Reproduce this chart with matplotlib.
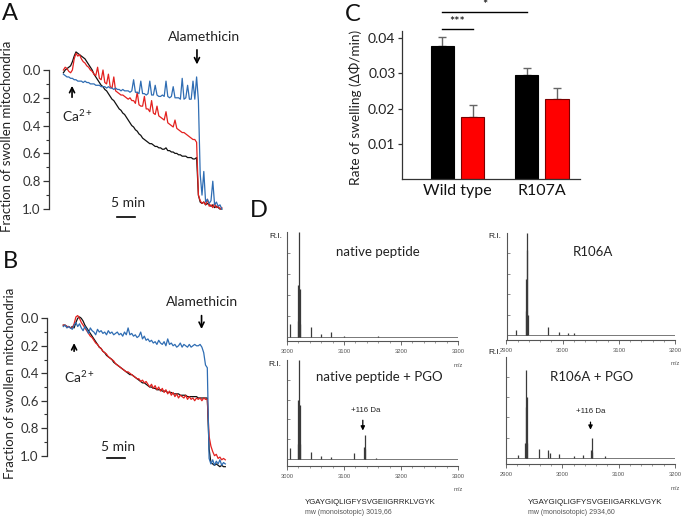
import numpy as np
import matplotlib
matplotlib.use('Agg')
import matplotlib.pyplot as plt
from matplotlib.ticker import MultipleLocator, FormatStrFormatter, FixedLocator

plt.rcParams['font.family'] = ['Lato', 'DejaVu Sans']
plt.rcParams['mathtext.default'] = 'regular'

# ---------------- data ----------------
STEP_MIN = 0.5  # sampling interval of swelling traces (min)

# Panel A: fraction of swollen mitochondria (sampled every 0.5 min)
a_black = [0.02, 0.00, -0.01, -0.02, -0.03, -0.06, -0.10, -0.13, -0.12, -0.11,
           -0.10, -0.09, -0.08, -0.06, -0.04, -0.02, 0.00, 0.03, 0.05, 0.07,
           0.09, 0.11, 0.12, 0.14, 0.15, 0.17, 0.19, 0.21, 0.22, 0.24,
           0.26, 0.28, 0.29, 0.31, 0.32, 0.34, 0.36, 0.38, 0.40, 0.41,
           0.43, 0.44, 0.46, 0.47, 0.49, 0.50, 0.51, 0.52, 0.53, 0.53,
           0.54, 0.55, 0.55, 0.56, 0.56, 0.57, 0.57, 0.56, 0.58, 0.58,
           0.59, 0.59, 0.60, 0.60, 0.61, 0.61, 0.62, 0.62, 0.62, 0.63,
           0.63, 0.63, 0.64, 0.64, 0.63, 0.90, 0.95, 0.96, 0.95, 0.97,
           0.96, 0.97, 0.98, 0.97, 0.99, 0.98, 0.99, 1.00, 1.00]
a_red = [0.00, -0.02, -0.01, 0.01, 0.02, 0.00, -0.08, -0.12, -0.10, -0.11,
         -0.08, -0.06, -0.05, -0.03, -0.02, 0.00, 0.01, 0.03, 0.04, -0.02,
         0.06, 0.07, 0.00, 0.09, 0.10, 0.03, 0.12, 0.13, 0.05, 0.15,
         0.16, 0.17, 0.18, 0.18, 0.19, 0.20, 0.21, 0.20, 0.22, 0.22,
         0.24, 0.16, 0.25, 0.26, 0.26, 0.19, 0.28, 0.28, 0.30, 0.22,
         0.31, 0.32, 0.26, 0.33, 0.34, 0.35, 0.36, 0.30, 0.38, 0.39,
         0.40, 0.41, 0.36, 0.42, 0.43, 0.44, 0.45, 0.45, 0.46, 0.47,
         0.48, 0.49, 0.50, 0.50, 0.52, 0.90, 0.94, 0.96, 0.95, 0.97,
         0.93, 0.98, 0.97, 0.99, 0.96, 0.99, 0.98, 1.00, 0.99]
a_blue = [0.03, 0.04, 0.05, 0.05, 0.06, 0.06, 0.07, 0.07, 0.08, 0.08,
          0.08, 0.09, 0.08, 0.09, 0.09, 0.10, 0.10, 0.10, 0.11, 0.11,
          0.11, 0.12, 0.12, 0.12, 0.13, 0.12, 0.13, 0.13, 0.14, 0.13,
          0.14, 0.14, 0.15, 0.14, 0.15, 0.15, 0.15, 0.16, 0.15, 0.07,
          0.16, 0.16, 0.17, 0.08, 0.17, 0.17, 0.18, 0.17, 0.08, 0.18,
          0.18, 0.11, 0.18, 0.19, 0.19, 0.18, 0.19, 0.08, 0.19, 0.20,
          0.19, 0.12, 0.20, 0.20, 0.20, 0.21, 0.06, 0.21, 0.20, 0.11,
          0.21, 0.21, 0.08, 0.21, 0.05, 0.22, 0.75, 0.90, 0.73, 0.95,
          0.93, 0.96, 0.94, 0.80, 0.97, 0.95, 0.98, 0.97, 1.00]

# Panel B
b_black = [0.05, 0.05, 0.06, 0.06, 0.07, 0.06, 0.07, 0.03, 0.00, -0.01,
           0.00, 0.02, 0.05, 0.07, 0.09, 0.11, 0.13, 0.15, 0.17, 0.19,
           0.21, 0.22, 0.24, 0.25, 0.27, 0.28, 0.29, 0.30, 0.32, 0.33,
           0.34, 0.35, 0.36, 0.37, 0.38, 0.39, 0.40, 0.41, 0.41, 0.42,
           0.43, 0.44, 0.45, 0.46, 0.47, 0.47, 0.48, 0.49, 0.50, 0.50,
           0.51, 0.51, 0.52, 0.52, 0.52, 0.53, 0.53, 0.53, 0.54, 0.54,
           0.54, 0.55, 0.55, 0.55, 0.55, 0.56, 0.56, 0.56, 0.56, 0.57,
           0.57, 0.57, 0.57, 0.57, 0.57, 0.58, 0.58, 0.58, 0.58, 0.58,
           0.58, 0.95, 1.05, 1.06, 1.07, 1.06, 1.07, 1.08, 1.07, 1.08,
           1.08]
b_red = [0.05, 0.05, 0.06, 0.06, 0.07, 0.07, 0.04, -0.01, -0.02, 0.00,
         0.03, 0.05, 0.07, 0.09, 0.11, 0.13, 0.14, 0.16, 0.18, 0.19,
         0.21, 0.22, 0.24, 0.25, 0.26, 0.28, 0.29, 0.30, 0.31, 0.33,
         0.34, 0.35, 0.36, 0.37, 0.38, 0.39, 0.39, 0.40, 0.41, 0.42,
         0.43, 0.44, 0.44, 0.46, 0.45, 0.47, 0.46, 0.48, 0.50, 0.48,
         0.51, 0.49, 0.52, 0.50, 0.53, 0.51, 0.54, 0.52, 0.55, 0.53,
         0.56, 0.54, 0.57, 0.55, 0.58, 0.56, 0.57, 0.58, 0.56, 0.59,
         0.57, 0.59, 0.58, 0.60, 0.58, 0.59, 0.58, 0.60, 0.58, 0.59,
         0.59, 0.86, 0.93, 0.97, 1.00, 0.99, 1.02, 1.01, 1.03, 1.02,
         1.03]
b_blue = [0.06, 0.05, 0.07, 0.06, 0.07, 0.08, 0.05, 0.03, 0.06, 0.04,
          0.07, 0.09, 0.06, 0.08, 0.11, 0.07, 0.09, 0.10, 0.12, 0.08,
          0.10, 0.09, 0.11, 0.10, 0.12, 0.09, 0.11, 0.10, 0.12, 0.11,
          0.10, 0.12, 0.11, 0.13, 0.10, 0.12, 0.07, 0.12, 0.11, 0.13,
          0.12, 0.14, 0.13, 0.10, 0.15, 0.13, 0.16, 0.15, 0.17, 0.16,
          0.18, 0.17, 0.19, 0.16, 0.18, 0.19, 0.17, 0.20, 0.15, 0.19,
          0.18, 0.20, 0.19, 0.21, 0.20, 0.18, 0.21, 0.19, 0.20, 0.21,
          0.19, 0.21, 0.20, 0.19, 0.20, 0.20, 0.19, 0.21, 0.25, 0.34,
          0.36, 1.02, 1.06, 1.03, 1.07, 1.04, 1.06, 1.03, 1.07, 1.05,
          1.06]

# Panel C: rate of swelling
c_groups = ['Wild type', 'R107A']
c_black = [0.0377, 0.0294]
c_black_err = [0.0024, 0.0022]
c_red = [0.0175, 0.0227]
c_red_err = [0.0034, 0.0030]

# Panel D: mass spectra (m/z, relative intensity)
d_native_mz = [3006, 3019, 3020, 3021, 3022, 3023, 3042, 3059, 3077, 3100, 3160]
d_native_ri = [0.12, 0.15, 0.49, 1.00, 0.45, 0.12, 0.09, 0.03, 0.04, 0.01, 0.01]
d_nativepgo_mz = [3006, 3019, 3020, 3021, 3022, 3023, 3042, 3059, 3078, 3118,
                  3135, 3136, 3137, 3157]
d_nativepgo_ri = [0.11, 0.15, 0.60, 1.00, 0.55, 0.15, 0.07, 0.035, 0.025, 0.06,
                  0.12, 0.24, 0.10, 0.015]
d_r106a_mz = [2917, 2934, 2935, 2936, 2937, 2938, 2974, 2993, 3010, 3020]
d_r106a_ri = [0.05, 0.23, 0.55, 1.00, 0.83, 0.20, 0.075, 0.03, 0.015, 0.015]
d_r106apgo_mz = [2921, 2934, 2935, 2936, 2937, 2938, 2958, 2974, 2978, 2994,
                 3020, 3037, 3051, 3052, 3053, 3075]
d_r106apgo_ri = [0.03, 0.15, 0.50, 0.87, 0.60, 0.15, 0.09, 0.076, 0.05, 0.04,
                 0.015, 0.026, 0.08, 0.20, 0.06, 0.015]

# ---------------- figure ----------------
W, H = 683, 516
fig = plt.figure(figsize=(W / 100, H / 100), dpi=100)


def px_axes(x0, x1, y0, y1):
    return fig.add_axes([x0 / W, 1 - y1 / H, (x1 - x0) / W, (y1 - y0) / H])


def ftext(x, y, s, **kw):
    return fig.text(x / W, 1 - y / H, s, **kw)


BLACK = '#111111'
RED = '#e3211f'
BLUE = '#2f6db3'
AX_COL = '#333333'


def trace_axes(ax, xlim, ylim):
    ax.set_xlim(*xlim)
    ax.set_ylim(*ylim)
    for s in ['top', 'right', 'bottom']:
        ax.spines[s].set_visible(False)
    ax.spines['left'].set_bounds(0, 1)
    ax.spines['left'].set_color(AX_COL)
    ax.spines['left'].set_linewidth(0.9)
    ax.set_xticks([])
    ax.set_yticks([0.0, 0.2, 0.4, 0.6, 0.8, 1.0])
    ax.yaxis.set_minor_locator(FixedLocator([0.1, 0.3, 0.5, 0.7, 0.9]))
    ax.yaxis.set_major_formatter(FormatStrFormatter('%.1f'))
    ax.tick_params(axis='y', which='major', length=4, width=0.9, color=AX_COL,
                   labelsize=9.5, labelcolor='#333333', pad=2)
    ax.tick_params(axis='y', which='minor', length=2.5, width=0.8, color=AX_COL)
    ax.patch.set_alpha(0)


# ---- Panel A ----
axA = px_axes(49, 229, 42.2, 222.9)
trace_axes(axA, (-4, 46), (1.1, -0.2))
for vals, col in [(a_black, BLACK), (a_red, RED), (a_blue, BLUE)]:
    t = np.arange(len(vals)) * STEP_MIN
    axA.plot(t, vals, color=col, lw=0.9, clip_on=False)
axA.annotate('', xy=(37.1, -0.02), xytext=(37.1, -0.165),
             arrowprops=dict(arrowstyle='->', color='black', lw=1.2, mutation_scale=9))
axA.text(39.0, -0.237, 'Alamethicin', ha='center', va='center', fontsize=10, color='#222222')
axA.annotate('', xy=(2.4, 0.094), xytext=(2.4, 0.216),
             arrowprops=dict(arrowstyle='->', color='black', lw=1.2, mutation_scale=9))
axA.text(3.9, 0.33, r'Ca$^{2+}$', ha='center', va='center', fontsize=10, color='#222222')
axA.plot([15, 20], [1.06, 1.06], color='black', lw=1.2, clip_on=False)
axA.text(17.9, 0.955, '5 min', ha='center', va='center', fontsize=10, color='#222222')

# ---- Panel B ----
axB = px_axes(47.1, 228.9, 297.7, 476.3)
trace_axes(axB, (-4.5, 46), (1.15, -0.15))
for vals, col in [(b_black, BLACK), (b_red, RED), (b_blue, BLUE)]:
    t = np.arange(len(vals)) * STEP_MIN
    axB.plot(t, vals, color=col, lw=0.9, clip_on=False)
axB.annotate('', xy=(38.4, 0.098), xytext=(38.4, -0.04),
             arrowprops=dict(arrowstyle='->', color='black', lw=1.2, mutation_scale=9))
axB.text(38.5, -0.12, 'Alamethicin', ha='center', va='center', fontsize=10, color='#222222')
axB.annotate('', xy=(3.0, 0.16), xytext=(3.0, 0.26),
             arrowprops=dict(arrowstyle='->', color='black', lw=1.2, mutation_scale=9))
axB.text(4.6, 0.43, r'Ca$^{2+}$', ha='center', va='center', fontsize=10, color='#222222')
axB.plot([12.1, 17.1], [1.017, 1.017], color='black', lw=1.2, clip_on=False)
axB.text(15.2, 0.934, '5 min', ha='center', va='center', fontsize=10, color='#222222')

ftext(7.5, 136, 'Fraction of swollen mitochondria', rotation=90, ha='center',
      va='center', fontsize=9.5, color='#222222')
ftext(10, 383, 'Fraction of swollen mitochondria', rotation=90, ha='center',
      va='center', fontsize=9.5, color='#222222')

# ---- Panel C ----
axC = px_axes(401.7, 580, 31.4, 179.4)
xg = np.arange(len(c_groups))
off, bw = 0.18, 0.275
axC.bar(xg - off, c_black, width=bw, color='black', edgecolor='black', lw=0.8, zorder=2)
axC.bar(xg + off, c_red, width=bw, color='#ff0000', edgecolor='#7a0000', lw=0.8, zorder=2)
axC.errorbar(xg - off, c_black, yerr=[[0] * len(c_black), c_black_err], fmt='none',
             ecolor='#666666', elinewidth=1, capsize=3, capthick=1, zorder=1)
axC.errorbar(xg + off, c_red, yerr=[[0] * len(c_red), c_red_err], fmt='none',
             ecolor='#666666', elinewidth=1, capsize=3, capthick=1, zorder=1)
axC.set_xlim(-0.662, 1.453)
axC.set_ylim(0, 0.0418)
axC.set_yticks([0.01, 0.02, 0.03, 0.04])
axC.yaxis.set_major_formatter(FormatStrFormatter('%.2f'))
axC.set_xticks(xg)
axC.set_xticklabels(c_groups)
axC.tick_params(axis='x', length=0, labelsize=11.5, pad=3, labelcolor='#111111')
axC.tick_params(axis='y', length=3, width=0.9, color=AX_COL, labelsize=10,
                labelcolor='#222222', pad=1.5)
for s in ['top', 'right']:
    axC.spines[s].set_visible(False)
for s in ['left', 'bottom']:
    axC.spines[s].set_color(AX_COL)
    axC.spines[s].set_linewidth(0.9)
sig1_y, sig2_y = 0.0424, 0.0474
axC.plot([xg[0] - off, xg[0] + off], [sig1_y, sig1_y], color='black', lw=1, clip_on=False)
axC.text(xg[0], sig1_y + 0.0003, '***', ha='center', va='bottom', fontsize=9)
axC.plot([xg[0] - off, xg[1] - off], [sig2_y, sig2_y], color='black', lw=1, clip_on=False)
axC.text((xg[0] + xg[1]) / 2 - off, sig2_y + 0.0003, '*', ha='center', va='bottom', fontsize=9)
ftext(355, 107, 'Rate of swelling (ΔΦ/min)', rotation=90, ha='center', va='center',
      fontsize=9.8, color='#222222')

# ---- Panel D ----
SPEC = '#3a3a3a'
SMALL = dict(family=['Liberation Sans', 'DejaVu Sans'])


def spec_axes(box, xlim, ylim, mz, ri):
    ax = px_axes(*box)
    ax.set_xlim(*xlim)
    ax.set_ylim(*ylim)
    ax.axhline(0, color='#777777', lw=0.7)
    ax.vlines(mz, 0, ri, color=SPEC, lw=0.9)
    for s in ['top', 'right']:
        ax.spines[s].set_visible(False)
    for s in ['left', 'bottom']:
        ax.spines[s].set_color('#555555')
        ax.spines[s].set_linewidth(0.8)
    ax.spines['left'].set_bounds(ylim[0], 1.0)
    ax.set_xticks(np.arange(xlim[0], xlim[1] + 1, 100))
    ax.xaxis.set_minor_locator(MultipleLocator(20))
    ax.set_yticks([0.2, 0.4, 0.6, 0.8])
    ax.set_yticklabels([])
    ax.tick_params(axis='y', direction='in', length=2, width=0.6, color='#777777')
    ax.tick_params(axis='x', which='major', direction='out', length=3, width=0.6,
                   color='#555555', labelsize=4.2, labelcolor='#555555', pad=2.5)
    ax.tick_params(axis='x', which='minor', direction='out', length=1.5, width=0.5,
                   color='#777777')
    for lab in ax.get_xticklabels():
        lab.set_family(['Liberation Sans', 'DejaVu Sans'])
    ax.text(1.0, -0.2, 'm/z', transform=ax.transAxes, ha='center', va='top',
            fontsize=4.2, color='#555555', **SMALL)
    ax.patch.set_alpha(0)
    return ax


axD1 = spec_axes((287, 458, 231.7, 341), (3000, 3300), (-0.041, 1.0),
                 d_native_mz, d_native_ri)
axD2 = spec_axes((506.5, 675, 232.7, 340), (2900, 3200), (-0.049, 1.0),
                 d_r106a_mz, d_r106a_ri)
axD3 = spec_axes((287, 458, 360, 466), (3000, 3300), (-0.07, 1.0),
                 d_nativepgo_mz, d_nativepgo_ri)
axD4 = spec_axes((506, 675, 356.7, 464.3), (2900, 3200), (-0.065, 1.0),
                 d_r106apgo_mz, d_r106apgo_ri)

for x, y in [(276, 237), (495, 237), (275, 365), (495, 352)]:
    ftext(x, y, 'R.I.', ha='center', va='center', fontsize=6, color='#222222', **SMALL)

ftext(378, 252, 'native peptide', ha='center', va='center', fontsize=9.5, color='#222222')
ftext(593, 252, 'R106A', ha='center', va='center', fontsize=9.5, color='#222222')
ftext(379, 377, 'native peptide + PGO', ha='center', va='center', fontsize=9.5, color='#222222')
ftext(592, 377, 'R106A + PGO', ha='center', va='center', fontsize=9.5, color='#222222')

axD3.annotate('', xy=(3133, 0.26), xytext=(3133, 0.42),
              arrowprops=dict(arrowstyle='-|>', color='black', lw=0.9, mutation_scale=6))
axD3.text(3138, 0.49, '+116 Da', ha='center', va='center', fontsize=5.7, color='#222222', **SMALL)
axD4.annotate('', xy=(3050, 0.25), xytext=(3050, 0.38),
              arrowprops=dict(arrowstyle='-|>', color='black', lw=0.9, mutation_scale=6))
axD4.text(3050, 0.455, '+116 Da', ha='center', va='center', fontsize=5.7, color='#222222', **SMALL)

ftext(305, 502, 'YGAYGIQLIGFYSVGEIIGRRKLVGYK', ha='left', va='center', fontsize=5.6,
      color='#222222', **SMALL)
ftext(305, 512, 'mw (monoisotopic) 3019,66', ha='left', va='center', fontsize=5,
      color='#555555', **SMALL)
ftext(528, 502, 'YGAYGIQLIGFYSVGEIIGARKLVGYK', ha='left', va='center', fontsize=5.8,
      color='#222222', **SMALL)
ftext(528, 512, 'mw (monoisotopic) 2934,60', ha='left', va='center', fontsize=5,
      color='#555555', **SMALL)

# Panel letters
for x, y, s in [(2, 20, 'A'), (3, 268, 'B'), (345, 21, 'C'), (250, 217, 'D')]:
    ftext(x, y, s, ha='left', va='baseline', fontsize=17, color='#111111')

fig.savefig('out.png', dpi=100)
